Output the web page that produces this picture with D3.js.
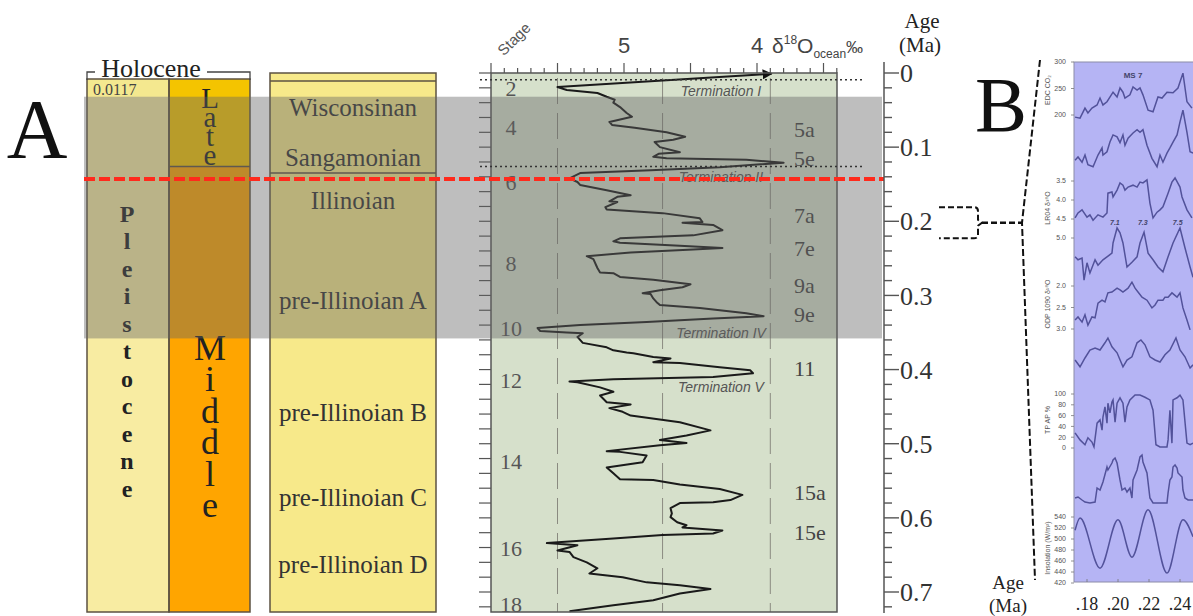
<!DOCTYPE html>
<meta charset="utf-8">
<script src="https://cdn.jsdelivr.net/npm/d3@7"></script>
<style>
body{margin:0;background:#fff;}
svg{display:block;}
.serif{font-family:"Liberation Serif","DejaVu Serif",serif;}
.sans{font-family:"Liberation Sans",Arial,sans-serif;}
</style>
<body>
<script>
// ---------- data ----------
var ageTicks = [0, 0.1, 0.2, 0.3, 0.4, 0.5, 0.6, 0.7];
var deltaTicks = [5, 4];
var gridDelta = [5.5, 4.71, 3.9];

// benthic d18O stack [age Ma, d18O permil]
var o18 = [[0.001,3.89],[0.019,5.50],[0.023,5.43],[0.027,5.20],[0.032,5.13],[0.036,5.07],[0.040,5.08],[0.046,5.03],[0.054,4.98],[0.059,4.94],[0.066,5.11],[0.070,5.09],[0.074,4.92],[0.080,4.68],[0.086,4.54],[0.090,4.63],[0.093,4.77],[0.100,4.73],[0.107,4.58],[0.109,4.74],[0.113,4.78],[0.115,4.68],[0.117,4.08],[0.121,3.80],[0.127,4.28],[0.131,4.80],[0.135,5.33],[0.142,5.41],[0.147,5.35],[0.151,5.33],[0.158,5.13],[0.165,4.95],[0.167,5.05],[0.173,5.11],[0.174,5.05],[0.181,5.14],[0.184,5.13],[0.189,4.71],[0.196,4.43],[0.201,4.41],[0.202,4.56],[0.205,4.33],[0.212,4.26],[0.219,4.48],[0.223,5.03],[0.227,5.08],[0.229,5.03],[0.233,4.58],[0.236,4.26],[0.238,4.48],[0.242,4.95],[0.247,5.28],[0.251,5.23],[0.263,5.20],[0.269,5.18],[0.270,5.08],[0.275,5.03],[0.279,4.78],[0.285,4.50],[0.289,4.56],[0.293,4.73],[0.297,4.86],[0.298,4.80],[0.304,4.78],[0.310,4.75],[0.313,4.73],[0.317,4.43],[0.324,4.08],[0.328,3.95],[0.331,4.33],[0.336,4.83],[0.340,5.33],[0.344,5.65],[0.348,5.63],[0.350,5.43],[0.351,5.31],[0.356,5.35],[0.360,5.33],[0.364,5.31],[0.370,5.13],[0.374,5.08],[0.377,4.98],[0.378,4.93],[0.383,4.78],[0.385,4.65],[0.390,4.78],[0.391,4.58],[0.397,4.28],[0.401,4.05],[0.405,4.03],[0.410,4.33],[0.413,5.08],[0.416,5.41],[0.417,5.35],[0.424,5.18],[0.430,5.08],[0.435,5.18],[0.444,5.13],[0.447,4.95],[0.452,5.11],[0.457,5.01],[0.462,4.95],[0.471,4.58],[0.482,4.35],[0.489,4.53],[0.495,4.73],[0.499,4.53],[0.502,4.73],[0.510,5.13],[0.511,5.03],[0.516,4.83],[0.525,4.86],[0.532,5.13],[0.540,5.08],[0.548,5.03],[0.549,4.78],[0.555,4.58],[0.561,4.28],[0.569,4.11],[0.576,4.20],[0.579,4.33],[0.580,4.58],[0.587,4.65],[0.594,4.64],[0.599,4.65],[0.606,4.60],[0.610,4.53],[0.613,4.56],[0.617,4.26],[0.621,4.33],[0.623,4.71],[0.628,5.08],[0.634,5.58],[0.637,5.35],[0.644,5.50],[0.646,5.41],[0.653,5.38],[0.660,5.28],[0.668,5.20],[0.675,5.26],[0.680,5.01],[0.687,4.83],[0.691,4.58],[0.696,4.35],[0.702,4.58],[0.711,4.78],[0.718,5.08],[0.726,5.41]];

var stageNames = ["2","4","6","8","10","12","14","16","18"];
var stageAges = [0.020,0.073,0.148,0.256,0.344,0.414,0.524,0.641,0.716];
var subNames = ["5a","5e","7a","7e","9a","9e","11","15a","15e"];
var subAges = [0.076,0.115,0.192,0.236,0.286,0.326,0.398,0.566,0.620];
var termNames = ["Termination I","Termination II","Termination IV","Termination V"];
var termAges = [0.024,0.141,0.351,0.424];

var unitNames = ["Wisconsinan","Sangamonian","Illinoian","pre-Illinoian A","pre-Illinoian B","pre-Illinoian C","pre-Illinoian D"];
var unitAges = [0.046,0.113,0.171,0.306,0.457,0.572,0.663];
var unitBoundary = 0.135;
var lateMiddleBoundary = 0.126;
var glacialBand = [0.032, 0.358];
var redLineAge = 0.143;
var dottedAges = [0.009, 0.126];
var zoomWindow = [0.181, 0.223];

// panel B series [age Ma, value]
var bTicks = [0.18, 0.20, 0.22, 0.24];
var co2 = [[.1723,196],[.1755,194],[.1787,213],[.1806,204],[.1832,213],[.1865,219],[.1884,232],[.1903,219],[.1929,225],[.1968,243],[.1994,234],[.2013,251],[.2032,243],[.2045,232],[.2077,238],[.2097,253],[.2123,247],[.2142,251],[.2161,238],[.2194,209],[.2226,206],[.2258,234],[.2284,232],[.2316,243],[.2355,242],[.2387,251],[.2419,279],[.2445,225],[.2477,213]];
var seriesB2 = [[.1723,.15],[.1742,.20],[.1768,.12],[.1787,.23],[.1806,.08],[.1839,.05],[.1871,.23],[.1897,.34],[.1903,.23],[.1929,.28],[.1948,.43],[.1968,.54],[.1994,.51],[.2013,.42],[.2032,.54],[.2045,.38],[.2065,.49],[.2097,.57],[.2123,.62],[.2142,.58],[.2161,.62],[.2187,.38],[.2219,.18],[.2252,.05],[.2271,.23],[.2290,.12],[.2316,.26],[.2335,.34],[.2355,.43],[.2381,.54],[.2400,.74],[.2419,.92],[.2445,.58],[.2465,.28],[.2484,.26]];
var lr04 = [[.1723,4.47],[.1742,4.34],[.1768,4.26],[.18,4.45],[.1819,4.39],[.1839,4.53],[.1871,4.39],[.1903,4.45],[.1929,4.34],[.1935,3.82],[.1961,3.79],[.1968,3.92],[.1994,3.74],[.2013,3.55],[.2032,3.61],[.2045,3.74],[.2065,3.66],[.2097,3.61],[.2123,3.66],[.2142,3.53],[.2161,3.55],[.2187,3.47],[.2206,4.08],[.2226,4.47],[.2252,4.32],[.2271,4.26],[.2290,4.18],[.2323,3.82],[.2348,3.53],[.2368,3.42],[.2400,3.66],[.2413,3.92],[.2445,4.26],[.2477,4.47]];
var seriesB4 = [[.1723,.47],[.1742,.42],[.1768,.45],[.1781,.08],[.18,.37],[.1819,.20],[.1852,.42],[.1871,.33],[.1903,.42],[.1929,.47],[.1961,.53],[.1968,.70],[.1994,.95],[.2013,.87],[.2032,.70],[.2058,.30],[.2090,.38],[.2123,.47],[.2142,.70],[.2168,.88],[.2194,.53],[.2226,.42],[.2258,.30],[.2290,.22],[.2323,.47],[.2355,.70],[.2400,.95],[.2432,.62],[.2465,.30],[.2484,.13]];
var substageNames = ["7.1","7.3","7.5"];
var substageAges = [0.198, 0.216, 0.2385];
var odp1090 = [[.1723,2.79],[.1742,2.72],[.1768,2.84],[.1787,2.67],[.1806,2.91],[.1832,2.72],[.1852,2.74],[.1871,2.40],[.1897,2.33],[.1916,2.37],[.1935,2.16],[.1961,2.14],[.1994,2.05],[.2013,2.09],[.2032,2.14],[.2065,2.05],[.2090,1.91],[.2110,2.05],[.2129,2.14],[.2155,2.26],[.2187,2.33],[.2219,2.51],[.2239,2.44],[.2258,2.33],[.2290,2.33],[.2303,2.26],[.2323,2.26],[.2348,2.16],[.2381,2.26],[.2400,2.16],[.2419,2.51],[.2445,2.79],[.2465,3.02]];
var seriesB6 = [[.1723,.30],[.1755,.13],[.1787,.35],[.1819,.55],[.1852,.60],[.1884,.55],[.1916,.73],[.1935,.85],[.1961,.63],[.1994,.48],[.2032,.13],[.2058,.30],[.2090,.38],[.2123,.73],[.2148,.80],[.2174,.68],[.2206,.38],[.2239,.30],[.2271,.25],[.2303,.43],[.2335,.55],[.2374,.85],[.2400,.55],[.2432,.38],[.2465,.10],[.2484,.18]];
var tpAP = [[.1723,28],[.1755,15],[.1787,6],[.1806,19],[.1832,11],[.1845,2],[.1865,46],[.1884,52],[.1897,33],[.1903,57],[.1916,76],[.1929,46],[.1935,83],[.1948,65],[.1961,85],[.1968,89],[.1981,48],[.1994,83],[.2013,93],[.2032,83],[.2045,48],[.2058,76],[.2077,89],[.2110,98],[.2142,98],[.2174,94],[.2206,89],[.2226,70],[.2245,6],[.2271,2],[.2316,2],[.2323,15],[.2335,70],[.2348,9],[.2355,89],[.2381,93],[.2400,98],[.2419,89],[.2445,9],[.2465,6],[.2484,9]];
var seriesB8 = [[.1723,.14],[.1742,.16],[.1768,.10],[.1787,.06],[.1819,.04],[.1852,.06],[.1865,.34],[.1884,.30],[.1903,.46],[.1929,.76],[.1935,.70],[.1961,.84],[.1968,.90],[.1981,.94],[.1994,.84],[.2013,.50],[.2026,.30],[.2045,.34],[.2058,.26],[.2077,.34],[.2090,.14],[.2097,.50],[.2123,.70],[.2142,.96],[.2155,1.0],[.2161,.86],[.2187,.64],[.2206,.14],[.2226,.04],[.2271,.04],[.2316,.04],[.2323,.24],[.2335,.50],[.2348,.56],[.2355,.76],[.2368,.80],[.2381,.74],[.2387,.64],[.2413,.56],[.2419,.30],[.2432,.14],[.2452,.10],[.2484,.10]];
var insolation = [[.1723,516],[.1755,538],[.1884,447],[.2,535],[.2090,467],[.2194,553],[.2316,438],[.2419,535],[.2484,504]];

var co2Ticks = [300,250,200];
var lr04Ticks = [3.5,4.0,4.5,5.0];
var odpTicks = [2.0,2.5,3.0];
var tpTicks = [100,80,60,40,20,0];
var insTicks = [540,520,500,480,460,440,420];

// ---------- layout ----------
var W = 1193, H = 616;
var svg = d3.select("body").append("svg").attr("width", W).attr("height", H);

var yAge = d3.scaleLinear().domain([0, 0.7]).range([73, 592]);
var xD = d3.scaleLinear().domain([5, 4]).range([624, 757]);
var panelL = xD(6), panelR = 837, panelT = yAge(0), panelB = 612;

var col1 = [87, 169], col2 = [169, 250], col3 = [270, 436], colTop = 79;
var edge = "#5c5242";

// ---- left stratigraphic columns ----
svg.append("rect").attr("x", col1[0]).attr("y", colTop).attr("width", col1[1]-col1[0]).attr("height", panelB-colTop)
    .style("fill", "#f8eca2");
svg.append("rect").attr("x", col1[0]).attr("y", colTop).attr("width", col1[1]-col1[0]).attr("height", yAge(glacialBand[0])-colTop)
    .style("fill", "#f4e88f");
svg.append("rect").attr("x", col2[0]).attr("y", colTop).attr("width", col2[1]-col2[0]).attr("height", yAge(lateMiddleBoundary)-colTop)
    .style("fill", "#f4c400");
svg.append("rect").attr("x", col2[0]).attr("y", yAge(lateMiddleBoundary)).attr("width", col2[1]-col2[0]).attr("height", panelB-yAge(lateMiddleBoundary))
    .style("fill", "#ffa500");
svg.append("rect").attr("x", col3[0]).attr("y", panelT).attr("width", col3[1]-col3[0]).attr("height", panelB-panelT)
    .style("fill", "#f7e98a");

[col1, col2].forEach(function(c) {
  svg.append("rect").attr("x", c[0]).attr("y", colTop).attr("width", c[1]-c[0]).attr("height", panelB-colTop)
      .style("fill", "none").style("stroke", edge).style("stroke-width", 1.5);
});
svg.append("rect").attr("x", col3[0]).attr("y", panelT).attr("width", col3[1]-col3[0]).attr("height", panelB-panelT)
    .style("fill", "none").style("stroke", edge).style("stroke-width", 1.5);
svg.append("line").attr("x1", col3[0]).attr("x2", col3[1]).attr("y1", colTop+2).attr("y2", colTop+2)
    .style("stroke", edge).style("stroke-width", 1.5);
svg.append("line").attr("x1", col2[0]).attr("x2", col2[1]).attr("y1", yAge(lateMiddleBoundary)).attr("y2", yAge(lateMiddleBoundary))
    .style("stroke", edge).style("stroke-width", 1.5);
svg.append("line").attr("x1", col3[0]).attr("x2", col3[1]).attr("y1", yAge(unitBoundary)).attr("y2", yAge(unitBoundary))
    .style("stroke", edge).style("stroke-width", 1.5);

// holocene bracket
svg.append("path").attr("d", "M" + col1[0] + "," + (colTop+1) + "V72H" + col2[1] + "V" + (colTop+1))
    .style("fill", "none").style("stroke", "#444").style("stroke-width", 1.3);
svg.append("rect").attr("x", 95).attr("y", 56).attr("width", 112).attr("height", 22).style("fill", "#fff");
svg.append("text").attr("class", "serif").attr("x", 151).attr("y", 77).attr("text-anchor", "middle")
    .style("font-size", "26px").style("fill", "#222").text("Holocene");
svg.append("text").attr("class", "serif").attr("x", 93).attr("y", 95)
    .style("font-size", "16px").style("fill", "#444").text("0.0117");

// upright vertical words; negative spacing packs the letters as in the original
function vword(word, x, yMid, size, spacing, weight) {
  svg.append("text").attr("class", "serif").attr("x", x).attr("y", yMid)
      .attr("text-anchor", "middle")
      .style("writing-mode", "vertical-rl").style("text-orientation", "upright")
      .style("letter-spacing", spacing + "px").style("font-size", size + "px")
      .style("font-weight", weight).style("fill", "#222")
      .text(word);
}
vword("Pleistocene", 127, 352, 24, 1.5, "bold");
vword("Late", 210, 120, 29, -13, "normal");
vword("Middle", 210, 422, 36, -8.5, "normal");

svg.selectAll(".unit").data(unitNames).enter().append("text")
    .attr("class", "serif").attr("x", (col3[0]+col3[1])/2)
    .attr("y", function(d, i) { return yAge(unitAges[i]); }).attr("dy", "0.35em")
    .attr("text-anchor", "middle").style("font-size", "25px").style("fill", "#333")
    .text(function(d) { return d; });

// ---- d18O panel ----
svg.append("rect").attr("x", panelL).attr("y", panelT).attr("width", panelR-panelL).attr("height", panelB-panelT)
    .style("fill", "#d6e0cb");

svg.selectAll(".grid").data(gridDelta).enter().append("line")
    .attr("x1", function(d) { return xD(d); }).attr("x2", function(d) { return xD(d); })
    .attr("y1", panelT+5).attr("y2", panelB)
    .style("stroke", "#8a8a80").style("stroke-width", 1).style("stroke-dasharray", "26,9");

// top delta axis
var minorD = d3.range(34, 61).map(function(k) { return k/10; });
svg.selectAll(".dtick").data(minorD).enter().append("line")
    .attr("x1", function(d) { return xD(d); }).attr("x2", function(d) { return xD(d); })
    .attr("y1", panelT).attr("y2", function(d) { return Math.abs(d*2 - Math.round(d*2)) < 1e-6 ? panelT-10 : panelT-5; })
    .style("stroke", "#555").style("stroke-width", 1.2);
svg.selectAll(".dlab").data(deltaTicks).enter().append("text")
    .attr("class", "sans").attr("x", function(d) { return xD(d); }).attr("y", 53)
    .attr("text-anchor", "middle").style("font-size", "22px").style("fill", "#444")
    .text(function(d) { return d; });
var dlab = svg.append("text").attr("class", "sans").attr("x", 772).attr("y", 53).style("fill", "#444").style("font-size", "21px");
dlab.append("tspan").text("δ");
dlab.append("tspan").attr("dy", -9).style("font-size", "12px").text("18");
dlab.append("tspan").attr("dy", 9).text("O");
dlab.append("tspan").attr("dy", 5).style("font-size", "12px").text("ocean");
dlab.append("tspan").attr("dy", -5).style("font-size", "17px").text("‰");
svg.append("text").attr("class", "sans").attr("transform", "translate(514,39) rotate(-45)")
    .attr("text-anchor", "middle").attr("dy", "0.35em").style("font-size", "15px").style("fill", "#555").text("Stage");

// left age ticks of panel
var minorAge = d3.range(0, 37).map(function(k) { return k*0.02; });
svg.selectAll(".ltick").data(minorAge).enter().append("line")
    .attr("x1", panelL-12).attr("x2", panelL)
    .attr("y1", function(d) { return yAge(d); }).attr("y2", function(d) { return yAge(d); })
    .style("stroke", "#555").style("stroke-width", 1.2);

// d18O curve
svg.append("defs").append("marker").attr("id", "arr").attr("viewBox", "0 0 10 10")
    .attr("refX", 9).attr("refY", 5).attr("markerWidth", 5).attr("markerHeight", 5).attr("orient", "auto-start-reverse")
    .append("path").attr("d", "M0,0L10,5L0,10z").style("fill", "#111");
var line = d3.line().x(function(d) { return xD(d[1]); }).y(function(d) { return yAge(d[0]); });
svg.append("path").datum(o18).attr("d", line).attr("marker-start", "url(#arr)")
    .style("fill", "none").style("stroke", "#1a1a1a").style("stroke-width", 2).style("stroke-linejoin", "round");

svg.selectAll(".stage").data(stageNames).enter().append("text")
    .attr("class", "serif").attr("x", 511).attr("y", function(d, i) { return yAge(stageAges[i]); })
    .attr("dy", "0.35em").attr("text-anchor", "middle").style("font-size", "22px").style("fill", "#555")
    .text(function(d) { return d; });
svg.selectAll(".sub").data(subNames).enter().append("text")
    .attr("class", "serif").attr("x", 794).attr("y", function(d, i) { return yAge(subAges[i]); })
    .attr("dy", "0.35em").style("font-size", "22px").style("fill", "#444")
    .text(function(d) { return d; });
svg.selectAll(".term").data(termNames).enter().append("text")
    .attr("class", "sans").attr("x", 721).attr("y", function(d, i) { return yAge(termAges[i]); })
    .attr("dy", "0.35em").attr("text-anchor", "middle").style("font-size", "14px")
    .style("font-style", "italic").style("fill", "#555")
    .text(function(d) { return d; });

svg.append("rect").attr("x", panelL).attr("y", panelT).attr("width", panelR-panelL).attr("height", panelB-panelT)
    .style("fill", "none").style("stroke", "#555").style("stroke-width", 1.5);

// glacial band overlay
svg.append("rect").attr("x", 84).attr("y", yAge(glacialBand[0])).attr("width", 882-84)
    .attr("height", yAge(glacialBand[1]) - yAge(glacialBand[0]))
    .style("fill", "rgb(100,100,100)").style("fill-opacity", 0.42);

svg.selectAll(".dot").data(dottedAges).enter().append("line")
    .attr("x1", 480).attr("x2", 862).attr("y1", function(d) { return yAge(d); }).attr("y2", function(d) { return yAge(d); })
    .style("stroke", "#333").style("stroke-width", 1.5).style("stroke-dasharray", "2,3");

svg.append("line").attr("x1", 84).attr("x2", 884).attr("y1", yAge(redLineAge)).attr("y2", yAge(redLineAge))
    .style("stroke", "#ff2a1c").style("stroke-width", 4).style("stroke-dasharray", "11,4");

// ---- right age axis ----
var axisX = 884;
svg.append("line").attr("x1", axisX).attr("x2", axisX).attr("y1", 62).attr("y2", panelB+1)
    .style("stroke", "#555").style("stroke-width", 1.5);
svg.selectAll(".rtick").data(minorAge).enter().append("line")
    .attr("x1", axisX).attr("x2", function(d, i) { return i % 5 === 0 ? axisX+15 : axisX+8; })
    .attr("y1", function(d) { return yAge(d); }).attr("y2", function(d) { return yAge(d); })
    .style("stroke", "#555").style("stroke-width", 1.4);
svg.selectAll(".rlab").data(ageTicks).enter().append("text")
    .attr("class", "serif").attr("x", axisX+16).attr("y", function(d) { return yAge(d); })
    .attr("dy", "0.35em").style("font-size", "26px").style("fill", "#333")
    .text(function(d) { return d3.format(".1~f")(d); });
svg.append("text").attr("class", "serif").attr("x", 922).attr("y", 28).attr("text-anchor", "middle")
    .style("font-size", "21px").style("fill", "#222").text("Age");
svg.append("text").attr("class", "serif").attr("x", 920).attr("y", 52).attr("text-anchor", "middle")
    .style("font-size", "21px").style("fill", "#222").text("(Ma)");

// panel letters
svg.append("text").attr("class", "serif").attr("x", 37).attr("y", 158).attr("text-anchor", "middle")
    .style("font-size", "84px").style("fill", "#111").text("A");
svg.append("text").attr("class", "serif").attr("x", 1001).attr("y", 131).attr("text-anchor", "middle")
    .style("font-size", "78px").style("fill", "#111").text("B");

// zoom bracket
var zb = [yAge(zoomWindow[0]), yAge(zoomWindow[1])], zm = (zb[0]+zb[1])/2;
svg.append("path")
    .attr("d", "M939," + zb[0] + "H974Q978," + zb[0] + " 978," + (zb[0]+4) + "V" + (zm-3) + "L982," + zm +
               "L978," + (zm+3) + "V" + (zb[1]-4) + "Q978," + zb[1] + " 974," + zb[1] + "H939")
    .style("fill", "none").style("stroke", "#111").style("stroke-width", 2).style("stroke-dasharray", "6,3");
svg.append("path").attr("d", "M982," + zm + "H1022")
    .style("fill", "none").style("stroke", "#111").style("stroke-width", 2.5).style("stroke-dasharray", "6,3");
svg.append("path").attr("d", "M1040,60L1022," + zm + "L1035,580")
    .style("fill", "none").style("stroke", "#111").style("stroke-width", 2).style("stroke-dasharray", "7,3");

// ---- panel B ----
var bL = 1074, bR = 1200, bT = 62, bB = 582;
var xB = d3.scaleLinear().domain([0.18, 0.24]).range([1087, 1180]);
svg.append("clipPath").attr("id", "bclip").append("rect").attr("x", bL).attr("y", bT).attr("width", bR-bL).attr("height", bB-bT);
svg.append("rect").attr("x", bL).attr("y", bT).attr("width", bR-bL).attr("height", bB-bT)
    .style("fill", "#b5b4f4").style("stroke", "#8c8ca8").style("stroke-width", 1);

var bSeries = [
  {data: co2, y: d3.scaleLinear().domain([200, 300]).range([115, 62])},
  {data: seriesB2, y: d3.scaleLinear().domain([0, 1]).range([170, 105])},
  {data: lr04, y: d3.scaleLinear().domain([3.5, 5.0]).range([181, 238])},
  {data: seriesB4, y: d3.scaleLinear().domain([0, 1]).range([285, 225])},
  {data: odp1090, y: d3.scaleLinear().domain([2, 3]).range([286, 329])},
  {data: seriesB6, y: d3.scaleLinear().domain([0, 1]).range([372, 332])},
  {data: tpAP, y: d3.scaleLinear().domain([0, 100]).range([448, 394])},
  {data: seriesB8, y: d3.scaleLinear().domain([0, 1]).range([505, 455])},
  {data: insolation, y: d3.scaleLinear().domain([420, 540]).range([583, 517]), smooth: true}
];
var gB = svg.append("g").attr("clip-path", "url(#bclip)");
bSeries.forEach(function(s) {
  var ln = d3.line().x(function(d) { return xB(d[0]); }).y(function(d) { return s.y(d[1]); });
  if (s.smooth) ln.curve(d3.curveMonotoneX);
  gB.append("path").datum(s.data).attr("d", ln)
      .style("fill", "none").style("stroke", "#52529a").style("stroke-width", 1.5);
});

function bAxis(ticks, scale, fmt, title, ty) {
  svg.selectAll(null).data(ticks).enter().append("text")
      .attr("class", "sans").attr("x", 1066).attr("y", function(d) { return scale(d); })
      .attr("dy", "0.35em").attr("text-anchor", "end").style("font-size", "7px").style("fill", "#555")
      .text(function(d) { return fmt(d); });
  svg.selectAll(null).data(ticks).enter().append("line")
      .attr("x1", bL-3).attr("x2", bL).attr("y1", function(d) { return scale(d); }).attr("y2", function(d) { return scale(d); })
      .style("stroke", "#777").style("stroke-width", 0.8);
  svg.append("text").attr("class", "sans").attr("transform", "translate(1050," + ty + ") rotate(-90)")
      .attr("text-anchor", "middle").style("font-size", "7px").style("fill", "#555").text(title);
}
bAxis(co2Ticks, bSeries[0].y, d3.format("d"), "EDC CO₂", 90);
bAxis(lr04Ticks, bSeries[2].y, d3.format(".1f"), "LR04 δ¹⁸O", 208);
bAxis(odpTicks, bSeries[4].y, d3.format(".1f"), "ODP 1090 δ¹⁸O", 304);
bAxis(tpTicks, bSeries[6].y, d3.format("d"), "TP AP %", 420);
bAxis(insTicks, bSeries[8].y, d3.format("d"), "Insolation (W/m²)", 548);

svg.append("text").attr("class", "sans").attr("x", 1133).attr("y", 78).attr("text-anchor", "middle")
    .style("font-size", "8px").style("font-weight", "bold").style("fill", "#44446a").text("MS 7");
svg.selectAll(".ss").data(substageNames).enter().append("text")
    .attr("class", "sans").attr("x", function(d, i) { return xB(substageAges[i]); }).attr("y", 225)
    .attr("text-anchor", "middle").style("font-size", "7px").style("font-weight", "bold").style("font-style", "italic")
    .style("fill", "#44446a").text(function(d) { return d; });

svg.selectAll(".bt").data(bTicks).enter().append("line")
    .attr("x1", function(d) { return xB(d); }).attr("x2", function(d) { return xB(d); })
    .attr("y1", bB).attr("y2", bB-3).style("stroke", "#777").style("stroke-width", 0.8);
svg.selectAll(".bl").data(bTicks).enter().append("text")
    .attr("class", "serif").attr("x", function(d) { return xB(d); }).attr("y", 610)
    .attr("text-anchor", "middle").style("font-size", "18px").style("fill", "#222")
    .text(function(d) { return d3.format(".2f")(d).replace(/^0/, ""); });
svg.append("text").attr("class", "serif").attr("x", 1008).attr("y", 589).attr("text-anchor", "middle")
    .style("font-size", "19px").style("fill", "#222").text("Age");
svg.append("text").attr("class", "serif").attr("x", 1008).attr("y", 612).attr("text-anchor", "middle")
    .style("font-size", "19px").style("fill", "#222").text("(Ma)");
</script>
</body>
</html>
